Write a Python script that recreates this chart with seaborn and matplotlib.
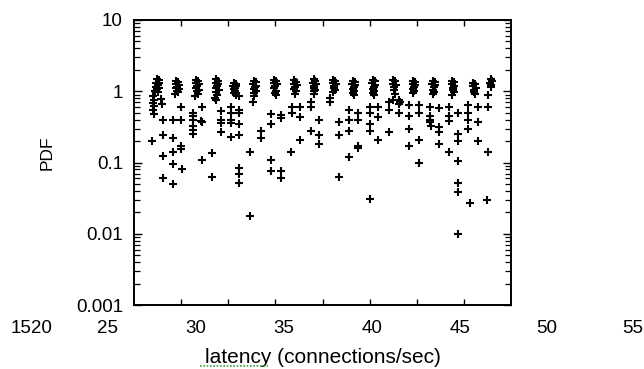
import matplotlib
matplotlib.use("Agg")
import matplotlib.pyplot as plt
import seaborn as sns
import pandas as pd
from matplotlib.ticker import FixedLocator, FixedFormatter, LogLocator, NullFormatter, NullLocator
from matplotlib.lines import Line2D

# ---- data: dense peaks near PDF ~1 ----
peak_latency = [
    17.4, 17.6, 17.3, 17.7, 17.5, 17.35, 17.65, 17.45, 17.2, 17.55,
    19.5, 19.7, 19.45, 19.75, 19.6, 19.5, 19.8, 19.55, 19.65,
    21.6, 21.8, 21.55, 21.85, 21.7, 21.6, 21.9, 21.65, 21.75, 21.5,
    23.7, 23.9, 23.65, 23.95, 23.8, 23.7, 24.0, 23.75, 23.85, 23.6, 23.65,
    25.6, 25.8, 25.55, 25.85, 25.7, 25.6, 25.75, 25.65, 25.8,
    27.7, 27.9, 27.65, 27.95, 27.8, 27.75, 27.9, 27.7, 27.7, 27.65,
    29.9, 30.1, 29.85, 30.15, 30.0, 29.9, 30.1, 29.95, 30.05,
    32.0, 32.2, 31.95, 32.25, 32.1, 32.0, 32.2, 32.05,
    34.05, 34.25, 34.0, 34.3, 34.15, 34.1, 34.2, 34.05, 34.15,
    36.15, 36.35, 36.1, 36.4, 36.25, 36.2, 36.3, 36.15,
    38.2, 38.4, 38.15, 38.45, 38.3, 38.25, 38.35, 38.2, 38.3,
    40.35, 40.55, 40.3, 40.6, 40.45, 40.4, 40.5, 40.35, 40.45,
    42.5, 42.7, 42.45, 42.75, 42.6, 42.55, 42.65, 42.5,
    44.6, 44.8, 44.55, 44.85, 44.7, 44.65, 44.75, 44.6,
    46.7, 46.9, 46.65, 46.95, 46.8, 46.75, 46.85, 46.7,
    48.75, 48.95, 48.7, 49.0, 48.85, 48.8, 48.9, 48.75,
    51.0, 51.2, 50.95, 51.25, 51.1, 51.05, 51.15,
    52.85, 52.95, 52.8, 52.9, 52.85,
]
peak_pdf = [
    1.48, 1.42, 1.32, 1.30, 1.22, 1.15, 1.12, 1.06, 1.02, 0.97,
    1.40, 1.35, 1.25, 1.22, 1.15, 1.10, 1.08, 1.02, 0.97,
    1.45, 1.38, 1.30, 1.26, 1.18, 1.12, 1.05, 1.00, 0.92, 0.85,
    1.48, 1.40, 1.30, 1.25, 1.18, 1.10, 1.05, 0.98, 0.90, 0.80, 0.75,
    1.30, 1.25, 1.20, 1.18, 1.12, 1.08, 1.02, 0.95, 0.88,
    1.40, 1.35, 1.25, 1.20, 1.15, 1.08, 1.02, 0.95, 0.85, 0.70,
    1.45, 1.38, 1.30, 1.25, 1.18, 1.10, 1.02, 0.95, 0.90,
    1.42, 1.35, 1.28, 1.22, 1.15, 1.08, 1.00, 0.92,
    1.48, 1.40, 1.30, 1.25, 1.18, 1.10, 1.05, 1.00, 0.92,
    1.42, 1.38, 1.30, 1.25, 1.18, 1.12, 1.05, 0.98,
    1.40, 1.35, 1.28, 1.22, 1.15, 1.08, 1.00, 0.93, 0.88,
    1.45, 1.38, 1.30, 1.22, 1.15, 1.08, 1.02, 0.95, 0.90,
    1.45, 1.38, 1.28, 1.22, 1.15, 1.05, 0.92, 0.76,
    1.40, 1.35, 1.28, 1.22, 1.15, 1.08, 1.00, 0.93,
    1.40, 1.35, 1.28, 1.22, 1.15, 1.05, 0.98, 0.92,
    1.40, 1.36, 1.28, 1.20, 1.12, 1.05, 0.98, 0.88,
    1.30, 1.25, 1.18, 1.12, 1.05, 0.98, 0.92,
    1.48, 1.40, 1.32, 1.22, 1.15,
]

# ---- data: scattered tail values below the peaks ----
tail_latency = [
    16.95, 17.05, 17.1, 17.05, 17.1, 17.05, 17.1, 17.9, 17.95, 18.12, 18.12, 18.12, 18.12,
    19.12, 19.12, 19.12, 19.12, 19.12, 19.4, 20.0, 20.0, 20.0, 20.0, 20.05,
    21.3, 21.3, 21.3, 21.3, 21.3, 21.3, 22.2, 22.15, 22.2, 22.2,
    23.27, 23.27, 24.28, 24.28, 24.28, 24.28,
    25.3, 25.3, 25.3, 25.3, 25.3, 26.1, 26.1, 26.1, 26.15, 26.1, 26.1, 26.1, 26.1,
    27.33, 27.33, 28.5, 28.5,
    29.5, 29.5, 29.5, 29.5, 30.55, 30.55, 30.6, 30.6,
    31.7, 31.8, 31.8, 32.57, 32.57, 32.57,
    33.75, 33.75, 33.75, 34.67, 34.67, 34.67,
    35.8, 35.8, 36.8, 36.8, 36.8,
    37.8, 37.8, 37.8, 37.8, 38.8, 38.8, 38.8, 38.8,
    40.0, 40.0, 40.0, 40.0, 40.0, 40.87, 40.87, 40.87,
    42.05, 42.05, 42.05, 43.14, 43.14, 43.14, 43.2,
    44.2, 44.2, 44.2, 44.2, 45.24, 45.24, 45.24, 45.24,
    46.4, 46.4, 46.4, 46.4, 46.5, 47.33, 47.33, 47.33, 47.33,
    48.4, 48.4, 48.4, 48.4, 49.4, 49.4, 49.4, 49.4, 49.4, 49.4, 49.4,
    50.43, 50.43, 50.43, 50.43, 50.6, 51.52, 51.52, 51.52,
    52.53, 52.53, 52.53, 52.5,
]
tail_pdf = [
    0.20, 0.85, 0.75, 0.68, 0.62, 0.55, 0.48, 0.78, 0.66, 0.40, 0.24, 0.125, 0.06,
    0.40, 0.22, 0.14, 0.094, 0.05, 0.92, 0.60, 0.40, 0.17, 0.155, 0.08,
    0.50, 0.45, 0.39, 0.33, 0.29, 0.25, 0.60, 0.38, 0.37, 0.11,
    0.135, 0.063, 0.52, 0.40, 0.36, 0.27,
    0.60, 0.50, 0.40, 0.36, 0.23, 0.85, 0.55, 0.50, 0.35, 0.24, 0.085, 0.07, 0.052,
    0.14, 0.018, 0.28, 0.22,
    0.48, 0.35, 0.11, 0.075, 0.46, 0.42, 0.075, 0.06,
    0.14, 0.60, 0.50, 0.60, 0.43, 0.21,
    0.70, 0.60, 0.28, 0.40, 0.24, 0.18,
    0.80, 0.70, 0.37, 0.24, 0.063,
    0.55, 0.40, 0.28, 0.12, 0.50, 0.40, 0.17, 0.16,
    0.60, 0.50, 0.35, 0.28, 0.031, 0.60, 0.43, 0.21,
    0.70, 0.55, 0.27, 0.76, 0.66, 0.50, 0.70,
    0.65, 0.45, 0.30, 0.17, 0.65, 0.50, 0.21, 0.10,
    0.60, 0.45, 0.40, 0.37, 0.33, 0.58, 0.32, 0.27, 0.18,
    0.60, 0.45, 0.38, 0.14, 0.50, 0.25, 0.20, 0.105, 0.052, 0.039, 0.01,
    0.65, 0.50, 0.40, 0.30, 0.027, 0.60, 0.37, 0.20,
    0.90, 0.60, 0.14, 0.030,
]

y_ticks = [0.001, 0.01, 0.1, 1, 10]
y_tick_labels = ["0.001", "0.01", "0.1", "1", "10"]
x_ticks = [20, 25, 30, 35, 40, 45, 50]
x_tick_labels = ["1520", "25", "30", "35", "40", "45", "50", "55"]
# displaced label positions (axes fraction), as in the original export
x_label_pos = [-0.271, -0.069, 0.1645, 0.398, 0.631, 0.865, 1.095, 1.322]

df = pd.DataFrame({
    "latency": peak_latency + tail_latency,
    "pdf": peak_pdf + tail_pdf,
})

sns.set_style("white")
plt.rcParams["font.family"] = ["Liberation Sans", "DejaVu Sans"]
plt.rcParams["text.color"] = "black"
plt.rcParams["axes.labelcolor"] = "black"
plt.rcParams["xtick.color"] = "black"
plt.rcParams["ytick.color"] = "black"

fig = plt.figure(figsize=(6.44, 3.69), dpi=100)
ax = fig.add_axes([134 / 644, 1 - 305 / 369, 377 / 644, 285 / 369])

sns.scatterplot(data=df, x="latency", y="pdf", marker="+", color="black",
                s=36, linewidth=1.5, ax=ax, legend=False)

ax.set_yscale("log")
ax.set_xlim(15, 55)
ax.set_ylim(0.001, 10)

for sp in ax.spines.values():
    sp.set_visible(True)
    sp.set_color("black")
    sp.set_linewidth(1.4)

ax.xaxis.set_major_locator(FixedLocator(x_ticks))
ax.xaxis.set_minor_locator(NullLocator())
ax.tick_params(axis="x", which="major", direction="in", top=True, bottom=True,
               length=4, width=1, color="black", labelbottom=False)

ax.yaxis.set_major_locator(FixedLocator(y_ticks))
ax.yaxis.set_major_formatter(FixedFormatter(y_tick_labels))
ax.yaxis.set_minor_locator(LogLocator(base=10, subs=range(2, 10)))
ax.yaxis.set_minor_formatter(NullFormatter())
ax.tick_params(axis="y", which="major", direction="in", left=True, right=True,
               length=6, width=1, color="black", labelcolor="black", pad=8,
               labelsize=13.5)
ax.tick_params(axis="y", which="minor", direction="in", left=True, right=True,
               length=4, width=0.9, color="black")

for pos, lab in zip(x_label_pos, x_tick_labels):
    ax.text(pos, -0.082, lab, transform=ax.transAxes, ha="center", va="center",
            fontsize=13.5, color="black", clip_on=False)

ax.set_ylabel("PDF", fontsize=12.5, color="black")
ax.yaxis.set_label_coords(-0.21, 0.535)
ax.set_xlabel("latency (connections/sec)", fontsize=15, color="black")
ax.xaxis.set_label_coords(0.501, -0.15)

# spell-check squiggle under "latency"
fig.add_artist(Line2D([200 / 644, 268 / 644], [1 - 366 / 369, 1 - 366 / 369],
                      transform=fig.transFigure, color="#3aa040", lw=1.2,
                      linestyle=(0, (1, 1))))

fig.savefig("out.png", dpi=100)
